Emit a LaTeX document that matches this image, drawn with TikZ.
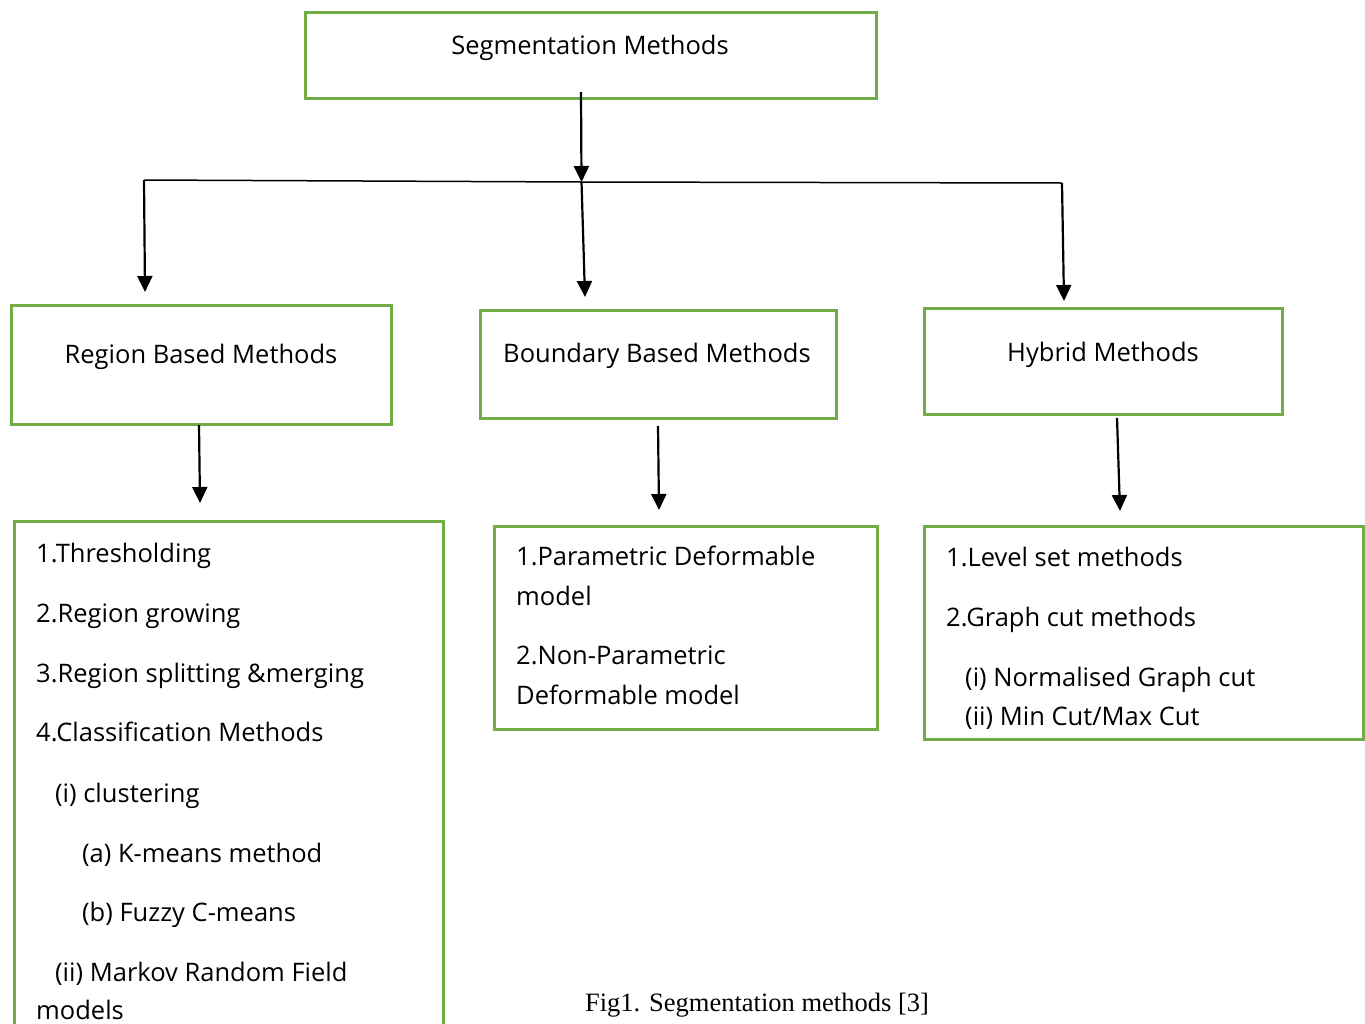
\documentclass[tikz,border=0pt]{standalone}
\usepackage{fontspec}
\setmainfont{Open Sans}
\newfontfamily\capfont{Liberation Serif}
\usetikzlibrary{arrows.meta}
\definecolor{boxgreen}{RGB}{112,173,71}
\tikzset{
  box/.style={draw=boxgreen, line width=3pt, rectangle, inner sep=0pt},
  txt/.style={font=\fontsize{25.5}{30}\selectfont, inner sep=0pt, anchor=base west},
  ctxt/.style={font=\fontsize{25.5}{30}\selectfont, inner sep=0pt, anchor=base},
  arr/.style={line width=2.2pt, -{Triangle[length=16pt,width=15pt]}},
  conn/.style={line width=1.5pt}
}
\begin{document}
\begin{tikzpicture}[x=1pt,y=-1pt]
\useasboundingbox[fill=white] (0,0) rectangle (1365,1023);
% top box
\node[box, minimum width=571pt, minimum height=86pt] (top) at (590.5,55) {};
\node[ctxt] (toptxt) at (590,54) {Segmentation Methods};
% second level boxes
\node[box, minimum width=380pt, minimum height=119pt] (region) at (201,364.5) {};
\node[ctxt] (regiontxt) at (201,363) {Region Based Methods};
\node[box, minimum width=356pt, minimum height=108pt] (boundary) at (658,364) {};
\node[ctxt] (boundarytxt) at (657,362) {Boundary Based Methods};
\node[box, minimum width=358pt, minimum height=106pt] (hybrid) at (1103,361) {};
\node[ctxt] (hybridtxt) at (1103,361) {Hybrid Methods};
% junction
\coordinate (tstart) at (581,92);
\coordinate (j) at (581.5,182);
\coordinate (jl) at (144,180);
\coordinate (jr) at (1062,183);
\coordinate (al) at (145,292);
\coordinate (am) at (585,297);
\coordinate (ar) at (1064,301);
\draw[arr] (tstart) -- (j);
\draw[conn] (jl) -- (j) -- (jr);
\draw[arr] (jl) -- (al);
\draw[arr] (j) -- (am);
\draw[arr] (jr) -- (ar);
% arrows to lists
\coordinate (rb) at (199,425);
\coordinate (re) at (200,503);
\coordinate (bb) at (658,426);
\coordinate (be) at (659,510);
\coordinate (hb) at (1117,418);
\coordinate (he) at (1120,511);
\draw[arr] (rb) -- (re);
\draw[arr] (bb) -- (be);
\draw[arr] (hb) -- (he);
% left list box (open at bottom)
\draw[draw=boxgreen, line width=3pt] (14,1030) -- (14,521) -- (443,521) -- (443,1030);
\node[txt] (l1) at (36,562) {1.Thresholding};
\node[txt] (l2) at (36,622) {2.Region growing};
\node[txt] (l3) at (36,682) {3.Region splitting \&merging};
\node[txt] (l4) at (36,741) {4.Classification Methods};
\node[txt] (l5) at (55,802) {(i) clustering};
\node[txt] (l6) at (82,862) {(a) K-means method};
\node[txt] (l7) at (82,921) {(b) Fuzzy C-means};
\node[txt] (l8) at (55,981) {(ii) Markov Random Field};
\node[txt] (l9) at (36,1019) {models};
% middle list box
\node[box, minimum width=383pt, minimum height=203pt] (blist) at (685.5,627.5) {};
\node[txt] (b1) at (516,565) {1.Parametric Deformable};
\node[txt] (b2) at (516,605) {model};
\node[txt] (b3) at (516,664) {2.Non-Parametric};
\node[txt] (b4) at (516,704) {Deformable model};
% right list box
\node[box, minimum width=439pt, minimum height=213pt] (hlist) at (1143.5,632.5) {};
\node[txt] (h1) at (946,566) {1.Level set methods};
\node[txt] (h2) at (946,626) {2.Graph cut methods};
\node[txt] (h3) at (965,686) {(i) Normalised Graph cut};
\node[txt] (h4) at (965,725) {(ii) Min Cut/Max Cut};
% caption
\node[inner sep=0pt, anchor=base, font=\capfont\fontsize{26.5}{30}\selectfont] (cap) at (757,1011) {Fig1. Segmentation methods [3]};
\end{tikzpicture}
\end{document}
